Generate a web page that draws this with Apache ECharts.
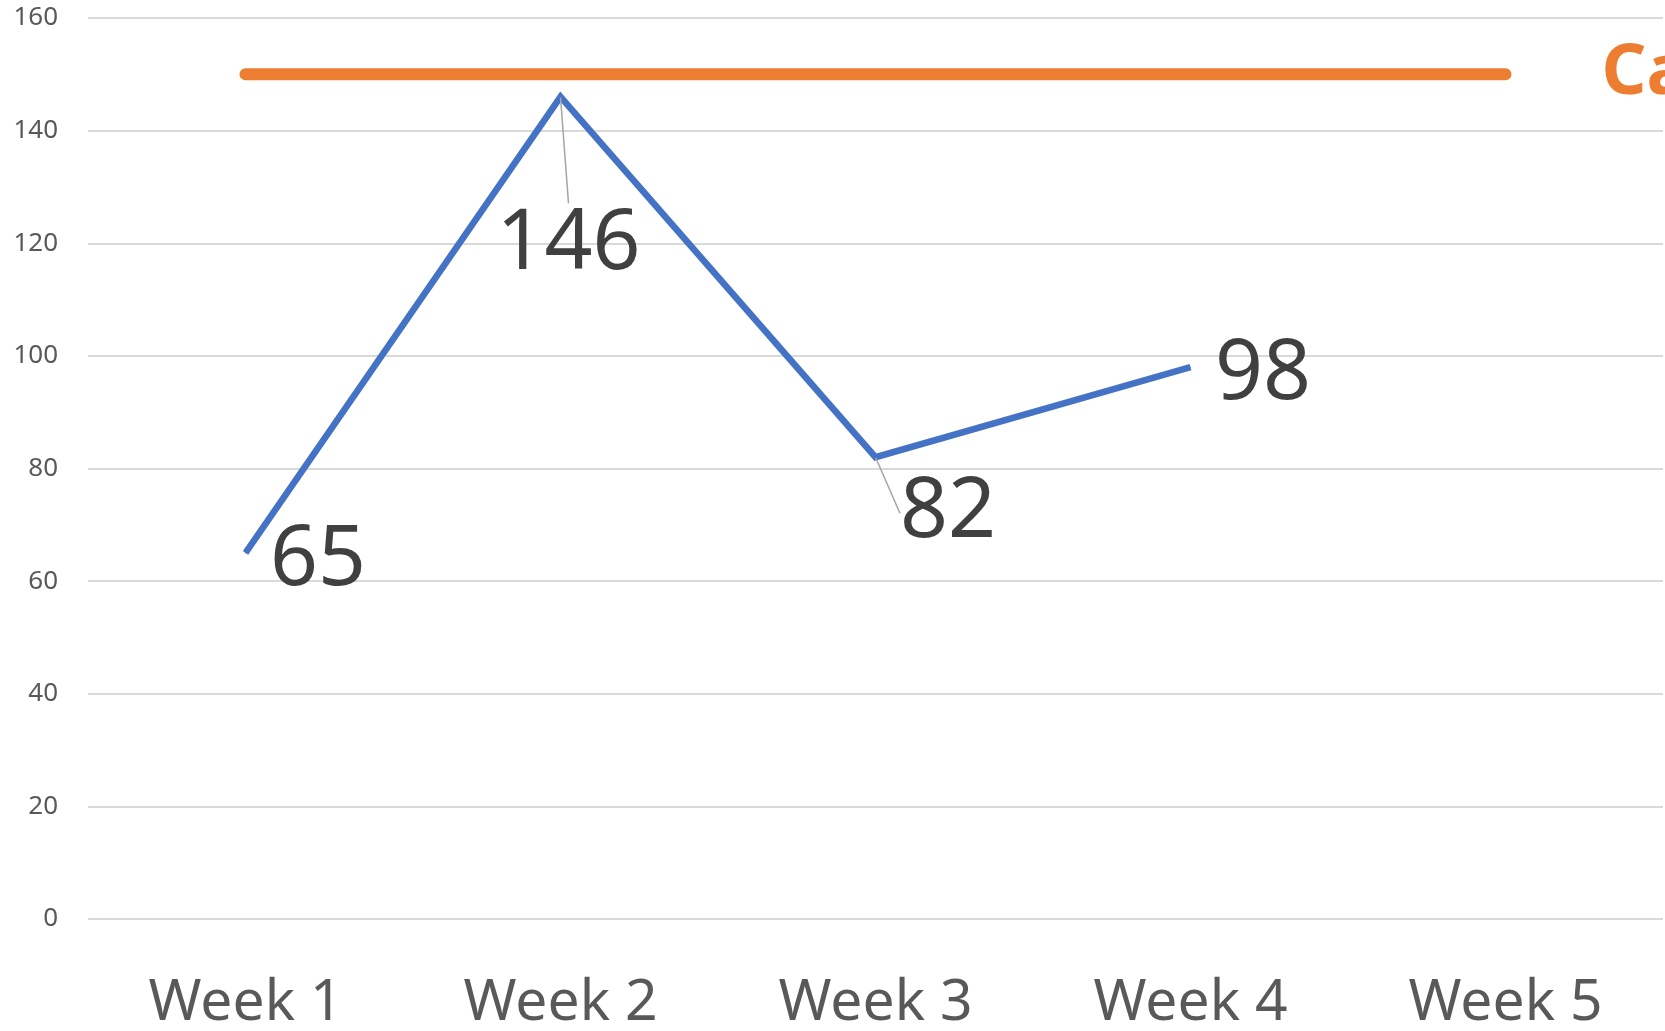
<!DOCTYPE html>
<html><head><meta charset="utf-8">
<script src="https://cdn.jsdelivr.net/npm/echarts@6/dist/echarts.min.js"></script>
<style>html,body{margin:0;padding:0;background:#fff}#c{width:1665px;height:1031px}</style>
</head><body><div id="c"></div>
<script>
var categories = ['Week 1', 'Week 2', 'Week 3', 'Week 4', 'Week 5'];
var actualValues = [65, 146, 82, 98, null];
var capacityValues = [150, 150, 150, 150, 150];
var capacityLabel = 'Capacity';
var yTicks = {min: 0, max: 160, interval: 20};

var FONT = 'Noto Sans';
var labelMoves = {1: {position: 'bottom', distance: 106, dx: 8, dy: 0, guide: true},
                  2: {position: 'right', distance: 24, dx: 0, dy: 56, guide: true}};
var actualData = actualValues.map(function (v, i) {
  var d = {value: v};
  var m = labelMoves[i];
  if (m) {
    d.label = {position: m.position, distance: m.distance};
    d.labelLine = {show: true, lineStyle: {color: '#a6a6a6', width: 1.5}};
  }
  return d;
});

var chart = echarts.init(document.getElementById('c'));
chart.setOption({
  animation: false,
  grid: {left: 88, right: 2, top: 18, bottom: 112, outerBoundsMode: 'none', containLabel: false},
  xAxis: {
    type: 'category', data: categories, boundaryGap: true,
    axisLine: {show: false}, axisTick: {show: false},
    axisLabel: {fontFamily: FONT, fontSize: 57, color: '#595959', margin: 56}
  },
  yAxis: {
    type: 'value', min: yTicks.min, max: yTicks.max, interval: yTicks.interval,
    axisLine: {show: false}, axisTick: {show: false},
    axisLabel: {fontFamily: FONT, fontSize: 26, color: '#595959', margin: 30},
    splitLine: {lineStyle: {color: '#d9d9d9', width: 2}}
  },
  series: [
    {
      type: 'line', data: capacityValues, symbol: 'none',
      lineStyle: {color: '#ED7D31', width: 12, cap: 'round'},
      z: 2,
      endLabel: {show: true, formatter: capacityLabel, fontFamily: FONT, fontSize: 70,
        fontWeight: 'bold', color: '#ED7D31', distance: 96}
    },
    {
      type: 'line', data: actualData, symbol: 'circle', symbolSize: 1, showSymbol: true,
      itemStyle: {color: '#4472C4'},
      lineStyle: {color: '#4472C4', width: 6.5, join: 'miter'},
      z: 3,
      label: {show: true, position: 'right', distance: 24, fontFamily: FONT, fontSize: 84,
        color: '#404040'},
      labelLayout: function (p) {
        var m = labelMoves[p.dataIndex];
        if (m) return {dx: m.dx, dy: m.dy};
        return {dy: 8};
      }
    }
  ]
});
</script></body></html>
